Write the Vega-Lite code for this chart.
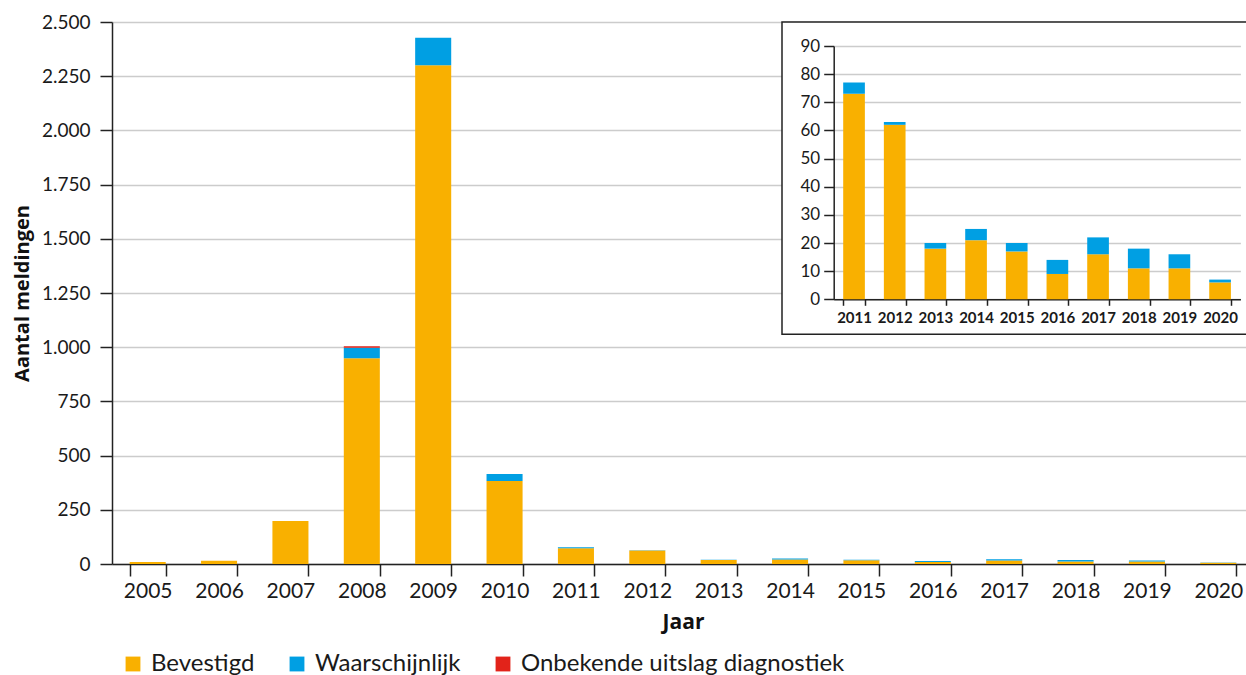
{
  "$schema": "https://vega.github.io/schema/vega-lite/v6.json",
  "padding": {"left": 12, "top": 13, "right": 0, "bottom": 0},
  "autosize": {"type": "pad"},
  "background": "white",
  "config": {
    "font": "Lato",
    "view": {"stroke": null},
    "locale": {"number": {"decimal": ",", "thousands": ".", "grouping": [3], "currency": ["€", ""]}},
    "axis": {"domainColor": "#222222", "tickColor": "#222222", "labelColor": "#1a1a1a", "titleColor": "#111111", "titleFont": "Open Sans", "gridColor": "#cccccc", "gridWidth": 1.5, "domainWidth": 1.5, "tickWidth": 1.5}
  },
  "datasets": {
    "meldingen": [
      {"jaar": 2005, "categorie": "Bevestigd", "volgorde": 1, "aantal": 9},
      {"jaar": 2006, "categorie": "Bevestigd", "volgorde": 1, "aantal": 15},
      {"jaar": 2007, "categorie": "Bevestigd", "volgorde": 1, "aantal": 198},
      {"jaar": 2008, "categorie": "Bevestigd", "volgorde": 1, "aantal": 949},
      {"jaar": 2008, "categorie": "Waarschijnlijk", "volgorde": 2, "aantal": 48},
      {"jaar": 2008, "categorie": "Onbekende uitslag diagnostiek", "volgorde": 3, "aantal": 7},
      {"jaar": 2009, "categorie": "Bevestigd", "volgorde": 1, "aantal": 2301},
      {"jaar": 2009, "categorie": "Waarschijnlijk", "volgorde": 2, "aantal": 126},
      {"jaar": 2010, "categorie": "Bevestigd", "volgorde": 1, "aantal": 383},
      {"jaar": 2010, "categorie": "Waarschijnlijk", "volgorde": 2, "aantal": 32},
      {"jaar": 2011, "categorie": "Bevestigd", "volgorde": 1, "aantal": 73},
      {"jaar": 2011, "categorie": "Waarschijnlijk", "volgorde": 2, "aantal": 4},
      {"jaar": 2012, "categorie": "Bevestigd", "volgorde": 1, "aantal": 62},
      {"jaar": 2012, "categorie": "Waarschijnlijk", "volgorde": 2, "aantal": 1},
      {"jaar": 2013, "categorie": "Bevestigd", "volgorde": 1, "aantal": 18},
      {"jaar": 2013, "categorie": "Waarschijnlijk", "volgorde": 2, "aantal": 2},
      {"jaar": 2014, "categorie": "Bevestigd", "volgorde": 1, "aantal": 21},
      {"jaar": 2014, "categorie": "Waarschijnlijk", "volgorde": 2, "aantal": 4},
      {"jaar": 2015, "categorie": "Bevestigd", "volgorde": 1, "aantal": 17},
      {"jaar": 2015, "categorie": "Waarschijnlijk", "volgorde": 2, "aantal": 3},
      {"jaar": 2016, "categorie": "Bevestigd", "volgorde": 1, "aantal": 9},
      {"jaar": 2016, "categorie": "Waarschijnlijk", "volgorde": 2, "aantal": 5},
      {"jaar": 2017, "categorie": "Bevestigd", "volgorde": 1, "aantal": 16},
      {"jaar": 2017, "categorie": "Waarschijnlijk", "volgorde": 2, "aantal": 6},
      {"jaar": 2018, "categorie": "Bevestigd", "volgorde": 1, "aantal": 11},
      {"jaar": 2018, "categorie": "Waarschijnlijk", "volgorde": 2, "aantal": 7},
      {"jaar": 2019, "categorie": "Bevestigd", "volgorde": 1, "aantal": 11},
      {"jaar": 2019, "categorie": "Waarschijnlijk", "volgorde": 2, "aantal": 5},
      {"jaar": 2020, "categorie": "Bevestigd", "volgorde": 1, "aantal": 6},
      {"jaar": 2020, "categorie": "Waarschijnlijk", "volgorde": 2, "aantal": 1}
    ]
  },
  "bounds": "flush",
  "spacing": 0,
  "resolve": {"scale": {"color": "shared"}},
  "hconcat": [
    {
      "width": 669.3,
      "height": 542,
      "data": {"name": "meldingen"},
      "mark": {"type": "bar"},
      "encoding": {
        "x": {
          "field": "jaar", "type": "ordinal", "title": "Jaar",
          "scale": {"range": [0, 1142], "paddingInner": 0.495, "paddingOuter": 0.2475},
          "axis": {"labelAngle": 0, "tickBand": "extent", "grid": false, "tickSize": 12, "labelFontSize": 21, "labelPadding": 4, "titleFontSize": 21, "titleFontWeight": "bold", "titlePadding": 10, "titleX": 571}
        },
        "y": {
          "field": "aantal", "type": "quantitative", "stack": "zero", "title": "Aantal meldingen",
          "scale": {"domain": [0, 2500], "nice": false},
          "axis": {"values": [0, 250, 500, 750, 1000, 1250, 1500, 1750, 2000, 2250, 2500], "format": ",d", "tickSize": 12, "labelPadding": 10, "labelFontSize": 19, "titleFontSize": 20, "titleFontWeight": "bold", "titlePadding": 9}
        },
        "color": {
          "field": "categorie", "type": "nominal",
          "scale": {"domain": ["Bevestigd", "Waarschijnlijk", "Onbekende uitslag diagnostiek"], "range": ["#F9B000", "#009FE3", "#E2231A"]},
          "legend": {"title": null, "orient": "none", "direction": "horizontal", "legendX": 9, "legendY": 630, "symbolType": "square", "symbolSize": 220, "symbolStrokeWidth": 0, "labelFontSize": 24, "labelColor": "#1a1a1a", "labelOffset": 6, "columnPadding": 30, "labelLimit": 500}
        },
        "order": {"field": "volgorde", "type": "quantitative"}
      }
    },
    {
      "width": 465,
      "height": 312.3,
      "view": {"stroke": "#222222", "strokeWidth": 1.5, "fill": "white"},
      "data": {"name": "meldingen"},
      "transform": [{"filter": "datum.jaar >= 2011"}],
      "mark": {"type": "bar"},
      "encoding": {
        "x": {
          "field": "jaar", "type": "ordinal", "title": null,
          "scale": {"range": [51.7, 458.4], "paddingInner": 0.467, "paddingOuter": 0.2335},
          "axis": {"labelAngle": 0, "tickBand": "extent", "grid": false, "tickSize": 6, "labelFontSize": 15, "labelFontWeight": "bold", "labelPadding": 5, "offset": -35}
        },
        "y": {
          "field": "aantal", "type": "quantitative", "stack": "zero", "title": null,
          "scale": {"domain": [0, 90], "nice": false, "range": [277.3, 24]},
          "axis": {"values": [0, 10, 20, 30, 40, 50, 60, 70, 80, 90], "tickSize": 10, "labelPadding": 4, "labelFontSize": 17, "offset": -51.7}
        },
        "color": {
          "field": "categorie", "type": "nominal",
          "scale": {"domain": ["Bevestigd", "Waarschijnlijk", "Onbekende uitslag diagnostiek"], "range": ["#F9B000", "#009FE3", "#E2231A"]}
        },
        "order": {"field": "volgorde", "type": "quantitative"}
      }
    }
  ]
}
